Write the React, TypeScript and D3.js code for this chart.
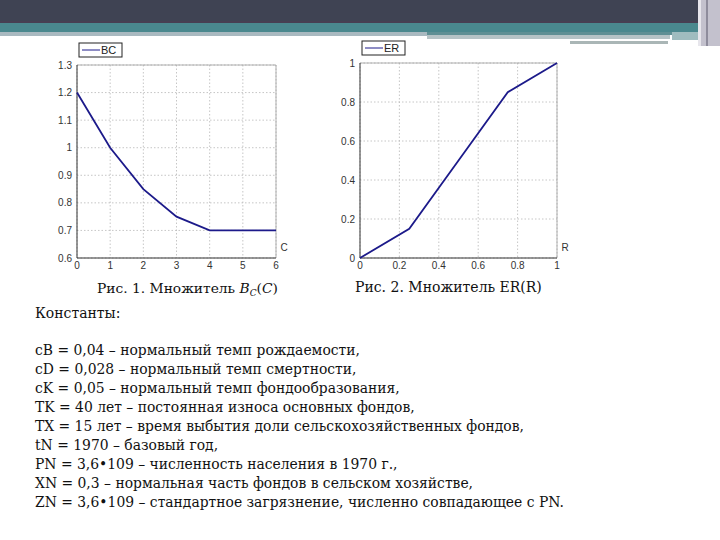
import * as d3 from "d3";

// Рис. 1 — множитель BC(C)
const bcC = [0, 1, 2, 3, 4, 5, 6];
const bcVal = [1.2, 1.0, 0.85, 0.75, 0.7, 0.7, 0.7];
const bcXTicks = [0, 1, 2, 3, 4, 5, 6];
const bcYTicks = [0.6, 0.7, 0.8, 0.9, 1, 1.1, 1.2, 1.3];

// Рис. 2 — множитель ER(R)
const erR = [0, 0.25, 0.5, 0.75, 1];
const erVal = [0, 0.15, 0.5, 0.85, 1];
const erXTicks = [0, 0.2, 0.4, 0.6, 0.8, 1];
const erYTicks = [0, 0.2, 0.4, 0.6, 0.8, 1];

const constantsTitle = "Константы:";
const constantLines = [
  "cB = 0,04 – нормальный темп рождаемости,",
  "cD = 0,028 – нормальный темп смертности,",
  "cK = 0,05 – нормальный темп фондообразования,",
  "TK = 40 лет – постоянная износа основных фондов,",
  "TX = 15 лет – время выбытия доли сельскохозяйственных фондов,",
  "tN = 1970 – базовый год,",
  "PN = 3,6•109 – численность населения в 1970 г.,",
  "XN = 0,3 – нормальная часть фондов в сельском хозяйстве,",
  "ZN = 3,6•109 – стандартное загрязнение, численно совпадающее с PN.",
];

const LINE = "#1c1a8a";
const TICK_FONT = "Liberation Sans, Arial, sans-serif";
const SERIF = "DejaVu Serif, serif";

type PlotProps = {
  xs: number[];
  ys: number[];
  xDomain: [number, number];
  yDomain: [number, number];
  xTicks: number[];
  yTicks: number[];
  left: number;
  right: number;
  top: number;
  bottom: number;
  legend: string;
  axisName: string;
};

function Plot(p: PlotProps) {
  const x = d3.scaleLinear().domain(p.xDomain).range([p.left, p.right]);
  const y = d3.scaleLinear().domain(p.yDomain).range([p.bottom, p.top]);
  const pts: [number, number][] = p.xs.map((v, i) => [v, p.ys[i]]);
  const line = d3.line<[number, number]>().x(d => x(d[0])).y(d => y(d[1]));
  const fmt = (v: number) => String(+v.toFixed(2));
  return (
    <g>
      {p.xTicks.map(t => (
        <line key={"gx" + t} x1={x(t)} x2={x(t)} y1={p.top} y2={p.bottom}
          stroke="#b8b8b8" strokeWidth={0.8} strokeDasharray="1.5,2" />
      ))}
      {p.yTicks.map(t => (
        <line key={"gy" + t} x1={p.left} x2={p.right} y1={y(t)} y2={y(t)}
          stroke="#b8b8b8" strokeWidth={0.8} strokeDasharray="1.5,2" />
      ))}
      <line x1={p.left} x2={p.right} y1={p.top} y2={p.top} stroke="#a0a0a0" strokeWidth={0.8} />
      <line x1={p.right} x2={p.right} y1={p.top} y2={p.bottom} stroke="#a0a0a0" strokeWidth={0.8} />
      <line x1={p.left} x2={p.left} y1={p.top} y2={p.bottom} stroke="#333" strokeWidth={1} />
      <line x1={p.left} x2={p.right} y1={p.bottom} y2={p.bottom} stroke="#333" strokeWidth={1} />
      {p.yTicks.map(t => (
        <text key={"ly" + t} x={p.left - 5} y={y(t) + 3.5} textAnchor="end"
          fontFamily={TICK_FONT} fontSize={10} fill="#333">{fmt(t)}</text>
      ))}
      {p.xTicks.map(t => (
        <text key={"lx" + t} x={x(t)} y={p.bottom + 11} textAnchor="middle"
          fontFamily={TICK_FONT} fontSize={10} fill="#333">{fmt(t)}</text>
      ))}
      <text x={p.right + 8} y={p.bottom - 7} textAnchor="middle"
        fontFamily={TICK_FONT} fontSize={10} fill="#333">{p.axisName}</text>
      <path d={line(pts) ?? ""} fill="none" stroke={LINE} strokeWidth={1.8} />
      <rect x={p.left + 2} y={p.top - 22} width={43} height={14}
        fill="#fff" stroke="#222" strokeWidth={1} />
      <line x1={p.left + 5} x2={p.left + 23} y1={p.top - 15} y2={p.top - 15}
        stroke={LINE} strokeWidth={1} />
      <text x={p.left + 24} y={p.top - 11} fontFamily={TICK_FONT} fontSize={11} fill="#222">{p.legend}</text>
    </g>
  );
}

export default function App() {
  return (
    <div style={{ position: "fixed", left: 0, top: 0 }}>
      <svg width={720} height={540} style={{ display: "block", background: "#fff" }}>
        {/* slide header */}
        <rect x={0} y={0} width={700} height={23} fill="#3f4353" />
        <rect x={0} y={21} width={700} height={2} fill="#473f52" />
        <rect x={0} y={23} width={700} height={9} fill="#4a888e" />
        <rect x={0} y={32} width={427} height={4} fill="#a9b9c0" />
        <rect x={427} y={32} width={245} height={3} fill="#5f8f94" />
        <rect x={427} y={35} width={243} height={4} fill="#b6c3c6" />
        <rect x={570} y={41} width={98} height={3} fill="#aab6b6" />
        <rect x={672} y={32} width={28} height={8} fill="#9fbcbf" />
        <rect x={698} y={0} width={22} height={46} fill="#c3c1cd" />
        <rect x={698} y={0} width={3} height={46} fill="#e7e6ec" />
        <rect x={706} y={0} width={2} height={46} fill="#8e8c9c" />

        <Plot xs={bcC} ys={bcVal} xDomain={[0, 6]} yDomain={[0.6, 1.3]}
          xTicks={bcXTicks} yTicks={bcYTicks}
          left={77} right={276} top={65} bottom={258} legend="BC" axisName="C" />
        <Plot xs={erR} ys={erVal} xDomain={[0, 1]} yDomain={[0, 1]}
          xTicks={erXTicks} yTicks={erYTicks}
          left={360} right={557} top={63} bottom={258} legend="ER" axisName="R" />

        <text x={97} y={293} fontFamily={SERIF} fontSize={13.8} fill="#111">
          Рис. 1. Множитель <tspan fontStyle="italic">B</tspan>
          <tspan fontStyle="italic" fontSize={9} dy={3}>C</tspan>
          <tspan dy={-3}>(</tspan><tspan fontStyle="italic">C</tspan>)
        </text>
        <text x={355} y={292} fontFamily={SERIF} fontSize={14} fill="#111">Рис. 2. Множитель ER(R)</text>

        <text x={35} y={318} fontFamily={SERIF} fontSize={14} fill="#111">{constantsTitle}</text>
        {constantLines.map((s, i) => (
          <text key={i} x={35} y={355 + i * 19} fontFamily={SERIF} fontSize={13.9} fill="#111">{s}</text>
        ))}
      </svg>
    </div>
  );
}
